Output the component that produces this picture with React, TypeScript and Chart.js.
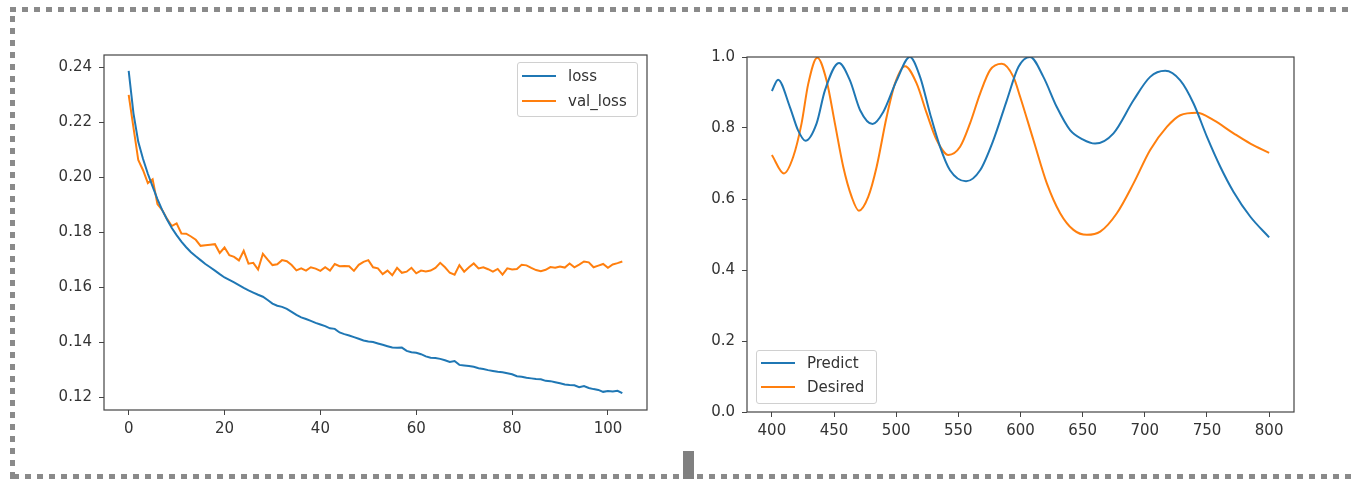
import React, { useEffect, useRef } from "react";
import { Chart, registerables } from "chart.js";

Chart.register(...registerables);

// ---------- Left chart data (training history) ----------
const lossValues = [
  0.2386, 0.2232, 0.2128, 0.2066, 0.2012, 0.1965, 0.1920, 0.1880, 0.1846, 0.1815,
  0.1789, 0.1765, 0.1745, 0.1727, 0.1712, 0.1698, 0.1684, 0.1672, 0.1660, 0.1647,
  0.1635, 0.1626, 0.1617, 0.1607, 0.1597, 0.1588, 0.1580, 0.1572, 0.1565, 0.1553,
  0.1540, 0.1532, 0.1528, 0.1521, 0.1510, 0.1499, 0.1490, 0.1484, 0.1477, 0.1470,
  0.1464, 0.1458, 0.1450, 0.1448, 0.1435, 0.1429, 0.1424, 0.1418, 0.1412, 0.1406,
  0.1402, 0.1400, 0.1395, 0.1390, 0.1385, 0.1380, 0.1379, 0.1380, 0.1368, 0.1363,
  0.1361, 0.1356, 0.1348, 0.1343, 0.1342, 0.1339, 0.1334, 0.1328, 0.1331, 0.1317,
  0.1315, 0.1313, 0.1310, 0.1305, 0.1302, 0.1298, 0.1295, 0.1292, 0.1290, 0.1287,
  0.1283, 0.1276, 0.1274, 0.1270, 0.1268, 0.1266, 0.1265, 0.1259, 0.1258, 0.1254,
  0.1250, 0.1246, 0.1244, 0.1243, 0.1236, 0.1240, 0.1233, 0.1229, 0.1226, 0.1219,
  0.1222, 0.1220, 0.1223, 0.1214,
];

const valLossValues = [
  0.2299, 0.2180, 0.2062, 0.2025, 0.1978, 0.1992, 0.1902, 0.1880, 0.1848, 0.1822,
  0.1832, 0.1795, 0.1794, 0.1784, 0.1772, 0.1750, 0.1752, 0.1754, 0.1756, 0.1724,
  0.1744, 0.1716, 0.1710, 0.1697, 0.1732, 0.1685, 0.1688, 0.1664, 0.1721, 0.1700,
  0.1680, 0.1683, 0.1698, 0.1694, 0.1680, 0.1661, 0.1668, 0.1660, 0.1672, 0.1667,
  0.1659, 0.1672, 0.1660, 0.1684, 0.1676, 0.1677, 0.1676, 0.1659, 0.1681, 0.1692,
  0.1698, 0.1672, 0.1668, 0.1647, 0.1660, 0.1643, 0.1670, 0.1652, 0.1656, 0.1670,
  0.1650, 0.1660, 0.1657, 0.1660, 0.1670, 0.1688, 0.1672, 0.1652, 0.1645, 0.1680,
  0.1656, 0.1672, 0.1686, 0.1668, 0.1672, 0.1665, 0.1656, 0.1666, 0.1645, 0.1668,
  0.1664, 0.1666, 0.1681, 0.1679, 0.1670, 0.1662, 0.1658, 0.1663, 0.1673, 0.1670,
  0.1675, 0.1671, 0.1686, 0.1672, 0.1682, 0.1693, 0.1690, 0.1672, 0.1678, 0.1684,
  0.1670, 0.1682, 0.1687, 0.1693,
];

const leftLegendLabels = ["loss", "val_loss"];

// ---------- Right chart data (prediction vs desired) ----------
const predictX = [
  400, 405, 414.5, 421, 427, 436, 442.7, 454, 462.8, 471, 481, 489.6, 500.4, 511,
  519.2, 527.2, 535.3, 543.3, 556.2, 567.5, 578.2, 589, 598.3, 607.7, 618.4, 629.2,
  639.9, 650, 660, 674.8, 690.9, 704.3, 716.4, 728.5, 739.2, 750, 760.7, 771.4,
  784.9, 800,
];
const predictY = [
  0.904, 0.936, 0.859, 0.794, 0.764, 0.813, 0.906, 0.983, 0.934, 0.850, 0.811, 0.845,
  0.934, 1.0, 0.944, 0.841, 0.747, 0.681, 0.650, 0.681, 0.766, 0.878, 0.972, 1.0,
  0.944, 0.859, 0.794, 0.768, 0.756, 0.785, 0.878, 0.944, 0.961, 0.934, 0.869, 0.775,
  0.691, 0.620, 0.550, 0.492,
];

const desiredX = [
  400, 409.7, 417.2, 423.9, 429.3, 436.5, 444, 450.7, 457.4, 464.2, 470, 477.5,
  484.3, 492.3, 499, 507.1, 516.5, 524.6, 532.6, 542, 551.4, 559.4, 567.5, 575.5,
  584.9, 594.3, 599.7, 610.4, 621.2, 631.9, 642.6, 653.4, 664.1, 677.5, 690.9,
  704.3, 717.7, 728.5, 741.9, 755.3, 771.4, 784.9, 800,
];
const desiredY = [
  0.724, 0.672, 0.719, 0.813, 0.925, 0.998, 0.934, 0.813, 0.691, 0.606, 0.567, 0.606,
  0.691, 0.831, 0.925, 0.974, 0.925, 0.841, 0.766, 0.724, 0.747, 0.813, 0.897, 0.963,
  0.981, 0.944, 0.888, 0.766, 0.644, 0.560, 0.513, 0.499, 0.508, 0.560, 0.644,
  0.738, 0.803, 0.836, 0.843, 0.822, 0.785, 0.756, 0.730,
];

const rightLegendLabels = ["Predict", "Desired"];

const BLUE = "#1f77b4";
const ORANGE = "#ff7f0e";
const FONT = "'DejaVu Sans', sans-serif";
const TEXT = "#333333";
const AXIS = "#444444";

const framePlugin = {
  id: "frame",
  afterDatasetsDraw(chart: any) {
    const { ctx, chartArea: a } = chart;
    ctx.save();
    ctx.strokeStyle = AXIS;
    ctx.lineWidth = 1.2;
    ctx.strokeRect(a.left, a.top, a.right - a.left, a.bottom - a.top);
    ctx.restore();
  },
};

function axisCommon(extra: any) {
  return {
    type: "linear",
    border: { display: false },
    grid: {
      drawOnChartArea: false,
      drawTicks: true,
      tickLength: 5,
      color: AXIS,
      lineWidth: 1,
    },
    ...extra,
    ticks: {
      includeBounds: false,
      autoSkip: false,
      maxRotation: 0,
      color: TEXT,
      font: { family: FONT, size: 15 },
      ...(extra.ticks || {}),
    },
  };
}

function LossChart() {
  const ref = useRef<HTMLCanvasElement | null>(null);
  useEffect(() => {
    if (!ref.current) return;
    const chart = new Chart(ref.current, {
      type: "line",
      data: {
        datasets: [
          {
            label: leftLegendLabels[0],
            data: lossValues.map((v, i) => ({ x: i, y: v })),
            borderColor: BLUE,
            borderWidth: 2,
            pointRadius: 0,
            tension: 0,
          },
          {
            label: leftLegendLabels[1],
            data: valLossValues.map((v, i) => ({ x: i, y: v })),
            borderColor: ORANGE,
            borderWidth: 2,
            pointRadius: 0,
            tension: 0,
          },
        ],
      },
      options: {
        animation: false,
        responsive: false,
        devicePixelRatio: 1,
        layout: { padding: { left: 0, top: 55, right: 33, bottom: 39 } },
        plugins: { legend: { display: false }, tooltip: { enabled: false } },
        scales: {
          x: axisCommon({
            min: -5.15,
            max: 108.15,
            afterFit: (s: any) => {
              s.height = 30;
            },
            ticks: { stepSize: 20, padding: 5, callback: (v: any) => String(v) },
          }),
          y: axisCommon({
            min: 0.1153,
            max: 0.2444,
            afterFit: (s: any) => {
              s.width = 104;
            },
            ticks: { stepSize: 0.02, padding: 7, callback: (v: any) => Number(v).toFixed(2) },
          }),
        },
      } as any,
      plugins: [framePlugin],
    });
    return () => chart.destroy();
  }, []);
  return (
    <canvas
      ref={ref}
      width={680}
      height={479}
      style={{ position: "absolute", left: 0, top: 0, width: 680, height: 479 }}
    />
  );
}

function PredictChart() {
  const ref = useRef<HTMLCanvasElement | null>(null);
  useEffect(() => {
    if (!ref.current) return;
    const chart = new Chart(ref.current, {
      type: "line",
      data: {
        datasets: [
          {
            label: rightLegendLabels[0],
            data: predictX.map((x, i) => ({ x, y: predictY[i] })),
            borderColor: BLUE,
            borderWidth: 2,
            pointRadius: 0,
            cubicInterpolationMode: "monotone",
          },
          {
            label: rightLegendLabels[1],
            data: desiredX.map((x, i) => ({ x, y: desiredY[i] })),
            borderColor: ORANGE,
            borderWidth: 2,
            pointRadius: 0,
            cubicInterpolationMode: "monotone",
          },
        ],
      },
      options: {
        animation: false,
        responsive: false,
        devicePixelRatio: 1,
        layout: { padding: { left: 0, top: 57, right: 57, bottom: 37 } },
        plugins: { legend: { display: false }, tooltip: { enabled: false } },
        scales: {
          x: axisCommon({
            min: 380,
            max: 820,
            afterFit: (s: any) => {
              s.height = 30;
            },
            ticks: { stepSize: 50, padding: 5, callback: (v: any) => String(v) },
          }),
          y: axisCommon({
            min: 0,
            max: 1,
            afterFit: (s: any) => {
              s.width = 67;
            },
            ticks: { stepSize: 0.2, padding: 7, callback: (v: any) => Number(v).toFixed(1) },
          }),
        },
      } as any,
      plugins: [framePlugin],
    });
    return () => chart.destroy();
  }, []);
  return (
    <canvas
      ref={ref}
      width={671}
      height={479}
      style={{ position: "absolute", left: 680, top: 0, width: 671, height: 479 }}
    />
  );
}

function Legend({
  left,
  top,
  width,
  height,
  labels,
  rowYs,
}: {
  left: number;
  top: number;
  width: number;
  height: number;
  labels: string[];
  rowYs: number[];
}) {
  const colors = [BLUE, ORANGE];
  return (
    <div style={{ position: "absolute", left: 0, top: 0 }}>
      <div
        style={{
          position: "absolute",
          left,
          top,
          width,
          height,
          boxSizing: "border-box",
          border: "1px solid #d0d0d0",
          borderRadius: 3,
          background: "rgba(255,255,255,0.85)",
        }}
      />
      {labels.map((lab, i) => (
        <React.Fragment key={lab}>
          <div
            style={{
              position: "absolute",
              left: left + 5,
              top: rowYs[i] - 1,
              width: 34,
              height: 2,
              background: colors[i],
            }}
          />
          <div
            style={{
              position: "absolute",
              left: left + 51,
              top: rowYs[i] - 10,
              height: 20,
              lineHeight: "20px",
              fontFamily: FONT,
              fontSize: 15,
              color: TEXT,
              whiteSpace: "nowrap",
            }}
          >
            {lab}
          </div>
        </React.Fragment>
      ))}
    </div>
  );
}

const dashH = "repeating-linear-gradient(90deg, #8a8a8a 0px, #8a8a8a 6px, transparent 6px, transparent 12px)";
const dashV = "repeating-linear-gradient(180deg, #8a8a8a 0px, #8a8a8a 6px, transparent 6px, transparent 12px)";

export default function App() {
  return (
    <div
      style={{
        position: "absolute",
        left: 0,
        top: 0,
        width: 1351,
        height: 479,
        background: "#ffffff",
        overflow: "hidden",
      }}
    >
      {/* dashed cell frame */}
      <div style={{ position: "absolute", left: 10, top: 7, width: 1341, height: 5, background: dashH }} />
      <div style={{ position: "absolute", left: 10, top: 7, width: 5, height: 472, background: dashV, backgroundPosition: "0 -3px" }} />
      <div style={{ position: "absolute", left: 13, top: 474, width: 1338, height: 5, background: dashH, backgroundPosition: "0 0" }} />
      <div style={{ position: "absolute", left: 683, top: 451, width: 11, height: 28, background: "#808080" }} />

      <LossChart />
      <PredictChart />

      <Legend left={517} top={62} width={121} height={55} labels={leftLegendLabels} rowYs={[76, 101]} />
      <Legend left={756} top={350} width={121} height={54} labels={rightLegendLabels} rowYs={[363, 387]} />
    </div>
  );
}
